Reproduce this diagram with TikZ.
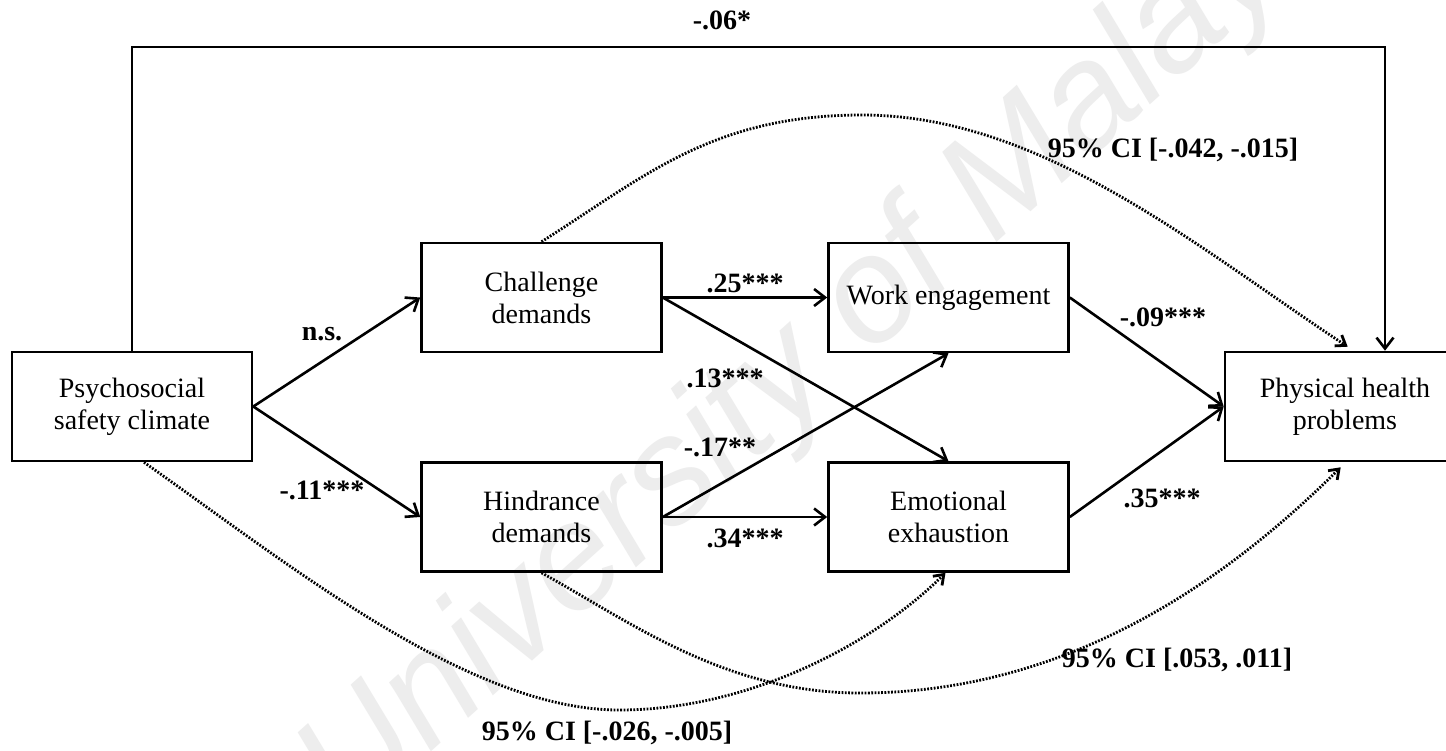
\documentclass[tikz,border=0pt]{standalone}
\usepackage{fontspec}
\setmainfont{Liberation Serif}
\newfontfamily\wmfont{Liberation Sans}
\usetikzlibrary{arrows.meta}
\begin{document}
\begin{tikzpicture}[x=1pt,y=-1pt,
  box/.style={draw, line width=2.6pt, minimum width=240pt, minimum height=109pt,
    align=center, inner sep=0pt, font=\fontsize{28}{32}\selectfont},
  arr/.style={line width=2.6pt, -{Straight Barb[length=11pt,width=17pt]}},
  ci/.style={line width=2.8pt, dash pattern=on 1.8pt off 1.5pt,
    -{Straight Barb[length=9pt,width=13pt]}},
  lab/.style={font=\fontsize{28}{32}\selectfont\bfseries, inner sep=0pt}]
\clip (0,0) rectangle (1446,750);
\fill[white] (0,0) rectangle (1446,750);

% faint watermark
\node[rotate=42, text=black!7, font=\wmfont\itshape\fontsize{150}{150}\selectfont]
  (wm) at (825,345) {University of Malaya};

% variables
\node[box] (psc)  at (132,406.5)   {Psychosocial\\safety climate};
\node[box] (chal) at (541.5,297.5) {Challenge\\demands};
\node[box] (hind) at (541.5,517)   {Hindrance\\demands};
\node[box] (work) at (948.5,297.5) {Work engagement};
\node[box] (emo)  at (948.5,517)   {Emotional\\exhaustion};
\node[box] (phys) at (1345,406.5)  {Physical health\\problems};

% direct effect
\coordinate (tr) at (1385,47);
\draw[arr] (psc.north) |- (tr) -- (tr |- phys.north);
\node[lab] (ldir) at (722,20) {-.06*};

% paths
\draw[arr] (psc.east) -- (chal.west);
\draw[arr] (psc.east) -- (hind.west);
\draw[arr] (chal.east) -- (work.west);
\draw[arr] (chal.east) -- (emo.north);
\draw[arr] (hind.east) -- (work.south);
\draw[arr] (hind.east) -- (emo.west);
\draw[arr] (work.east) -- (phys.west);
\draw[arr] (emo.east) -- (phys.west);

\node[lab] (l1) at (322,334)  {n.s.};
\node[lab] (l2) at (322,490)  {-.11***};
\node[lab] (l3) at (745,283)  {.25***};
\node[lab] (l4) at (725,378)  {.13***};
\node[lab] (l5) at (720,447)  {-.17**};
\node[lab] (l6) at (745,538)  {.34***};
\node[lab] (l7) at (1163,317) {-.09***};
\node[lab] (l8) at (1162,498) {.35***};

% indirect effects
\draw[ci] (chal.north) .. controls (644,177) and (712,115) .. (862,115)
  .. controls (1042,115) and (1199,249) .. ([xshift=124pt,yshift=4pt]phys.north west);
\draw[ci] ([xshift=12pt]psc.south) .. controls (290,565) and (469,710) .. (619,710)
  .. controls (749,710) and (874,644) .. ([xshift=-3pt]emo.south);
\draw[ci] (hind.south) .. controls (629,621) and (725,693) .. (860,693)
  .. controls (1075,693) and (1234,573) .. ([xshift=117pt,yshift=-5pt]phys.south west);

\node[lab] (ci1) at (1173,150) {95\% CI [-.042, -.015]};
\node[lab] (ci2) at (1177,660) {95\% CI [.053, .011]};
\node[lab] (ci3) at (607,733)  {95\% CI [-.026, -.005]};
\end{tikzpicture}
\end{document}
